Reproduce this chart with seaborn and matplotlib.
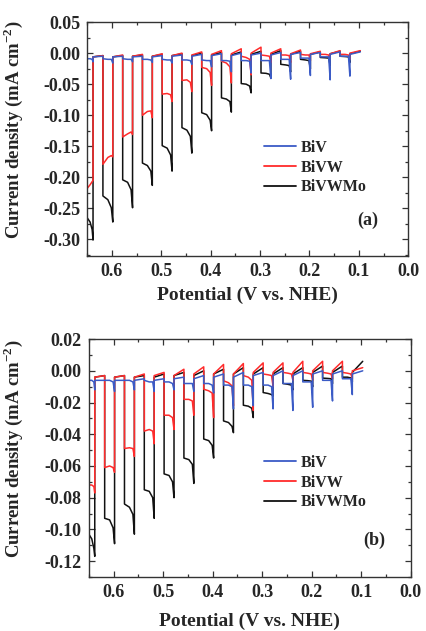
import matplotlib
matplotlib.use("Agg")
import matplotlib.pyplot as plt
import pandas as pd
import seaborn as sns
from matplotlib.lines import Line2D
from matplotlib.ticker import MultipleLocator, FormatStrFormatter

# light chopping: potential where each light pulse starts / ends (V vs. NHE)
light_start = [0.650, 0.618, 0.578, 0.538, 0.498, 0.458, 0.418, 0.378, 0.338, 0.298, 0.258, 0.218, 0.178, 0.138]
light_end = [0.638, 0.598, 0.558, 0.518, 0.478, 0.438, 0.398, 0.358, 0.318, 0.278, 0.238, 0.198, 0.158, 0.118]
scan_end = 0.097

samples = ["BiV", "BiVW", "BiVWMo"]
colors = {"BiV": "#3b5bc6", "BiVW": "#ff2b2b", "BiVWMo": "#111111"}

# panel (a): current (mA cm-2) per light pulse -> onset, middle, late, end spike; dark start / dark end
a_bk_on = [-0.265, -0.230, -0.204, -0.177, -0.149, -0.120, -0.096, -0.072, -0.049, -0.032, -0.018, -0.010, -0.007, -0.005]
a_bk_mid = [-0.272, -0.236, -0.208, -0.181, -0.153, -0.124, -0.099, -0.074, -0.050, -0.0325, -0.019, -0.011, -0.0075, -0.0055]
a_bk_late = [-0.284, -0.249, -0.220, -0.190, -0.164, -0.134, -0.108, -0.078, -0.053, -0.034, -0.020, -0.012, -0.008, -0.006]
a_bk_spike = [-0.301, -0.272, -0.249, -0.213, -0.190, -0.161, -0.125, -0.095, -0.064, -0.040, -0.030, -0.025, -0.020, -0.015]
a_bk_dark0 = [-0.006, -0.006, -0.005, -0.005, -0.004, -0.004, -0.003, -0.003, -0.002, -0.002, -0.002, -0.002, -0.001, -0.001]
a_bk_dark1 = [-0.004, -0.004, -0.003, -0.002, -0.001, 0.000, 0.001, 0.002, 0.003, 0.004, 0.003, 0.002, 0.003, 0.003]

a_rd_on = [-0.218, -0.179, -0.135, -0.100, -0.066, -0.044, -0.023, -0.013, -0.005, -0.003, -0.003, -0.002, -0.002, -0.002]
a_rd_mid = [-0.212, -0.168, -0.130, -0.094, -0.065, -0.043, -0.025, -0.016, -0.007, -0.004, -0.003, -0.003, -0.002, -0.002]
a_rd_late = [-0.207, -0.165, -0.127, -0.093, -0.067, -0.047, -0.031, -0.022, -0.010, -0.005, -0.004, -0.003, -0.003, -0.003]
a_rd_spike = [-0.205, -0.167, -0.131, -0.104, -0.078, -0.062, -0.052, -0.048, -0.035, -0.015, -0.015, -0.012, -0.010, -0.010]
a_rd_dark0 = [-0.006, -0.006, -0.005, -0.005, -0.004, -0.003, -0.002, -0.001, 0.000, 0.000, -0.001, -0.001, -0.001, 0.000]
a_rd_dark1 = [-0.004, -0.003, -0.002, -0.001, 0.000, 0.002, 0.004, 0.007, 0.0096, 0.007, 0.005, 0.003, 0.004, 0.004]

a_bl_on = [-0.009, -0.009, -0.009, -0.010, -0.010, -0.011, -0.011, -0.012, -0.012, -0.012, -0.010, -0.008, -0.006, -0.005]
a_bl_mid = [-0.009, -0.010, -0.010, -0.010, -0.011, -0.011, -0.012, -0.012, -0.012, -0.012, -0.010, -0.008, -0.006, -0.005]
a_bl_late = [-0.010, -0.010, -0.010, -0.011, -0.011, -0.012, -0.012, -0.013, -0.013, -0.012, -0.010, -0.008, -0.006, -0.005]
a_bl_spike = [-0.014, -0.016, -0.014, -0.015, -0.016, -0.018, -0.022, -0.030, -0.032, -0.041, -0.042, -0.036, -0.043, -0.037]
a_bl_dark0 = [-0.006, -0.006, -0.006, -0.006, -0.005, -0.005, -0.004, -0.004, -0.003, -0.003, -0.002, -0.002, -0.002, -0.002]
a_bl_dark1 = [-0.005, -0.005, -0.005, -0.004, -0.003, -0.002, -0.001, 0.000, 0.000, 0.001, 0.001, 0.001, 0.002, 0.002]

# panel (b)
b_bk_on = [-0.103, -0.093, -0.084, -0.075, -0.065, -0.055, -0.043, -0.0316, -0.0217, -0.0137, -0.008, -0.006, -0.0046, -0.004]
b_bk_mid = [-0.106, -0.094, -0.086, -0.076, -0.066, -0.056, -0.044, -0.0326, -0.0223, -0.0143, -0.0085, -0.0062, -0.0048, -0.004]
b_bk_late = [-0.112, -0.099, -0.0905, -0.080, -0.070, -0.059, -0.047, -0.035, -0.0236, -0.015, -0.009, -0.0065, -0.005, -0.0045]
b_bk_spike = [-0.117, -0.109, -0.103, -0.093, -0.080, -0.071, -0.055, -0.039, -0.0295, -0.016, -0.012, -0.010, -0.008, -0.007]
b_bk_dark0 = [-0.004, -0.004, -0.004, -0.004, -0.003, -0.003, -0.002, -0.002, -0.002, -0.002, -0.002, -0.001, -0.001, -0.001]
b_bk_dark1 = [-0.003, -0.003, -0.003, -0.002, -0.001, 0.000, 0.001, 0.002, 0.002, 0.002, 0.002, 0.003, 0.003, 0.006]

b_rd_on = [-0.072, -0.061, -0.049, -0.038, -0.028, -0.018, -0.0116, -0.0063, -0.003, -0.002, -0.001, -0.001, -0.001, -0.001]
b_rd_mid = [-0.072, -0.060, -0.0485, -0.037, -0.028, -0.018, -0.0126, -0.0075, -0.004, -0.0025, -0.0015, -0.0015, -0.0015, -0.0015]
b_rd_late = [-0.073, -0.061, -0.049, -0.038, -0.0295, -0.019, -0.014, -0.0095, -0.006, -0.003, -0.002, -0.002, -0.002, -0.002]
b_rd_spike = [-0.077, -0.064, -0.054, -0.046, -0.037, -0.028, -0.0295, -0.022, -0.025, -0.010, -0.006, -0.006, -0.005, -0.005]
b_rd_dark0 = [-0.004, -0.004, -0.004, -0.003, -0.003, -0.002, -0.002, -0.002, -0.001, -0.001, -0.001, 0.000, 0.000, 0.000]
b_rd_dark1 = [-0.003, -0.003, -0.002, -0.001, 0.001, 0.0025, 0.004, 0.0046, 0.005, 0.005, 0.006, 0.006, 0.006, 0.002]

b_bl_on = [-0.006, -0.006, -0.006, -0.006, -0.007, -0.008, -0.008, -0.009, -0.009, -0.009, -0.008, -0.007, -0.006, -0.005]
b_bl_mid = [-0.006, -0.006, -0.006, -0.007, -0.007, -0.008, -0.008, -0.009, -0.009, -0.009, -0.008, -0.007, -0.006, -0.005]
b_bl_late = [-0.007, -0.007, -0.007, -0.007, -0.008, -0.008, -0.009, -0.010, -0.010, -0.010, -0.008, -0.007, -0.006, -0.005]
b_bl_spike = [-0.012, -0.013, -0.012, -0.013, -0.012, -0.013, -0.014, -0.024, -0.022, -0.024, -0.025, -0.023, -0.019, -0.015]
b_bl_dark0 = [-0.006, -0.006, -0.006, -0.006, -0.005, -0.005, -0.004, -0.004, -0.003, -0.003, -0.003, -0.002, -0.002, -0.002]
b_bl_dark1 = [-0.006, -0.006, -0.005, -0.005, -0.004, -0.003, -0.002, -0.001, -0.001, 0.000, 0.000, 0.000, 0.000, 0.000]


def chopped_trace(panel, sample, on, mid, late, spike, dark0, dark1):
    rows = []
    n = len(light_start)
    for k in range(n):
        x0, x1 = light_start[k], light_end[k]
        nxt = light_start[k + 1] if k + 1 < n else scan_end
        xs = [x0, x0 + 0.5 * (x1 - x0), x0 + 0.85 * (x1 - x0), x1, x1, nxt]
        ys = [on[k], mid[k], late[k], spike[k], dark0[k], dark1[k]]
        for x, y in zip(xs, ys):
            rows.append({"panel": panel, "sample": sample, "potential": x, "current": y})
    return rows


rows = []
rows += chopped_trace("a", "BiVWMo", a_bk_on, a_bk_mid, a_bk_late, a_bk_spike, a_bk_dark0, a_bk_dark1)
rows += chopped_trace("a", "BiVW", a_rd_on, a_rd_mid, a_rd_late, a_rd_spike, a_rd_dark0, a_rd_dark1)
rows += chopped_trace("a", "BiV", a_bl_on, a_bl_mid, a_bl_late, a_bl_spike, a_bl_dark0, a_bl_dark1)
rows += chopped_trace("b", "BiVWMo", b_bk_on, b_bk_mid, b_bk_late, b_bk_spike, b_bk_dark0, b_bk_dark1)
rows += chopped_trace("b", "BiVW", b_rd_on, b_rd_mid, b_rd_late, b_rd_spike, b_rd_dark0, b_rd_dark1)
rows += chopped_trace("b", "BiV", b_bl_on, b_bl_mid, b_bl_late, b_bl_spike, b_bl_dark0, b_bl_dark1)
df = pd.DataFrame(rows)

sns.set_style("ticks")
plt.rcParams["font.family"] = ["Liberation Serif", "DejaVu Serif"]
plt.rcParams["font.weight"] = "bold"
plt.rcParams["axes.labelweight"] = "bold"
plt.rcParams["axes.unicode_minus"] = False
plt.rcParams["mathtext.fontset"] = "custom"
plt.rcParams["mathtext.rm"] = "Liberation Serif:bold"
plt.rcParams["mathtext.bf"] = "Liberation Serif:bold"

fig = plt.figure(figsize=(4.27, 6.31), dpi=100)
ax_a = fig.add_axes([0.204, 0.594, 0.752, 0.371])
ax_b = fig.add_axes([0.208, 0.0856, 0.754, 0.377])

panels = [
    (ax_a, "a", (-0.327, 0.05), 0.05, 0.025, (0.551, 0.497), (0.875, 0.153), -0.193, -0.132),
    (ax_b, "b", (-0.13, 0.02), 0.02, 0.01, (0.543, 0.513), (0.888, 0.156), -0.199, -0.151),
]

for ax, tag, ylim, ymaj, ymin, leg_pos, tag_pos, ylab_x, xlab_y in panels:
    sub = df[df["panel"] == tag]
    sns.lineplot(data=sub, x="potential", y="current", hue="sample",
                 hue_order=["BiVWMo", "BiVW", "BiV"], palette=colors,
                 sort=False, estimator=None, lw=1.1, legend=False, ax=ax)
    ax.set_xlim(0.65, 0.0)
    ax.set_ylim(*ylim)
    ax.xaxis.set_major_locator(MultipleLocator(0.1))
    ax.xaxis.set_minor_locator(MultipleLocator(0.05))
    ax.yaxis.set_major_locator(MultipleLocator(ymaj))
    ax.yaxis.set_minor_locator(MultipleLocator(ymin))
    ax.xaxis.set_major_formatter(FormatStrFormatter("%.1f"))
    ax.yaxis.set_major_formatter(FormatStrFormatter("%.2f"))
    ax.tick_params(which="both", direction="in", top=True, right=True,
                   width=0.9, color="#333333", labelsize=13, pad=5)
    ax.tick_params(which="major", length=4.5)
    ax.tick_params(which="minor", length=2.5)
    for sp in ax.spines.values():
        sp.set_color("#333333")
        sp.set_linewidth(1.0)
    ax.set_xlabel("Potential (V vs. NHE)", fontsize=14, fontweight="bold")
    ax.set_ylabel("Current density (mA cm$^{-2}$)", fontsize=13.5, fontweight="bold")
    ax.xaxis.set_label_coords(0.5, xlab_y)
    ax.yaxis.set_label_coords(ylab_x, 0.54)

    handles = [Line2D([], [], color=colors[s], lw=1.3) for s in samples]
    ax.legend(handles, samples, loc="upper left", bbox_to_anchor=leg_pos,
              frameon=False, handlelength=2.0, handletextpad=0.3,
              labelspacing=0.23, borderpad=0, borderaxespad=0,
              prop={"family": "Liberation Serif", "weight": "bold", "size": 11.5})
    ax.text(tag_pos[0], tag_pos[1], f"({tag})", transform=ax.transAxes,
            ha="center", va="center", fontsize=13, fontweight="bold")

fig.savefig("out.png", dpi=100)
